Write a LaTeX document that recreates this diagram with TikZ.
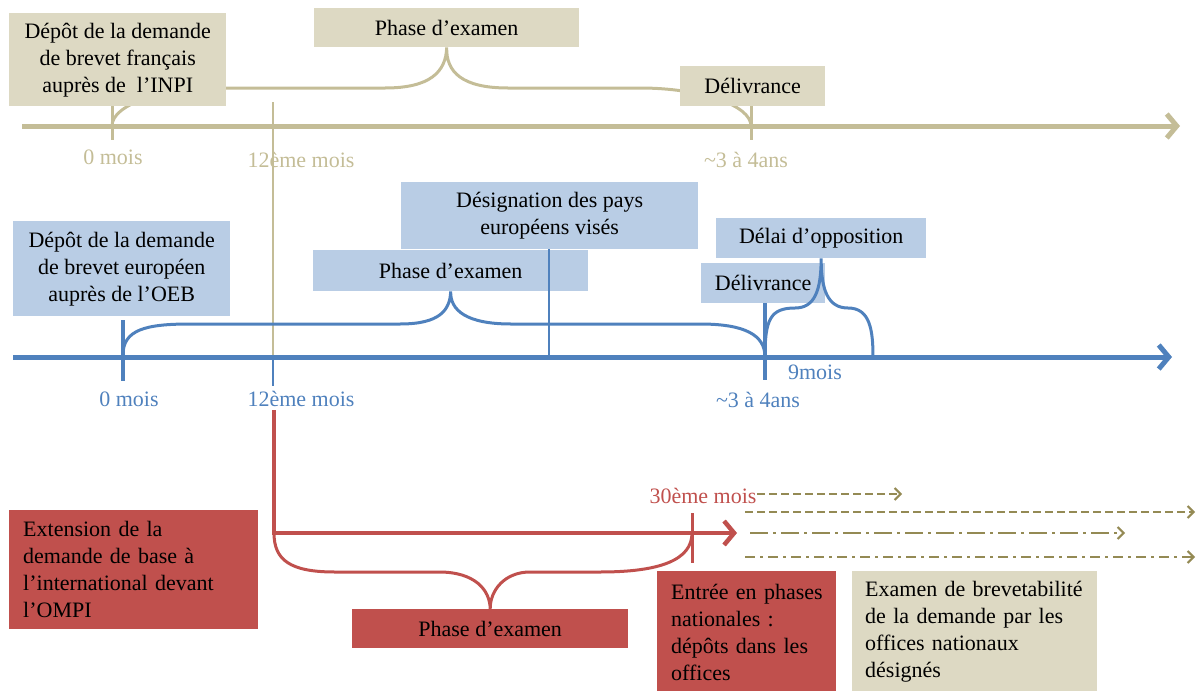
\documentclass[tikz,border=0pt]{standalone}
\usepackage{fontspec}
\setmainfont{Liberation Serif}
\usetikzlibrary{arrows.meta,backgrounds}
\definecolor{beigeF}{HTML}{DDD9C3}
\definecolor{beigeL}{HTML}{C4BD97}
\definecolor{blueF}{HTML}{B9CDE5}
\definecolor{blueL}{HTML}{4F81BD}
\definecolor{redF}{HTML}{C0504D}
\definecolor{oliveL}{HTML}{948A54}
\begin{document}
\begin{tikzpicture}[x=1pt,y=-1pt,
  txt/.style={font=\fontsize{22}{27}\selectfont, inner sep=0pt},
  box/.style={txt, anchor=north west, align=center},
  lbox/.style={txt, anchor=north west, align=left},
  axis/.style={line width=5pt, -{Straight Barb[length=10pt,width=24pt,line width=5pt]}},
  brace/.style={line width=3pt},
  tick/.style={line width=3pt},
  natl/.style={oliveL, line width=2pt, -{Straight Barb[length=6pt,width=12pt,line width=2pt]}},
]
\useasboundingbox (0,0) rectangle (1203,691);

% ---------- French (INPI) timeline ----------
\node[box, fill=beigeF, minimum width=217pt, minimum height=93pt] (inpi) at (9,13)
  {Dépôt de la demande\\de brevet français\\auprès de\ \ l’INPI};
\node[box, fill=beigeF, minimum width=265pt, minimum height=39pt] (pfr) at (314,8) {Phase d’examen};
\node[box, fill=beigeF, minimum width=145pt, minimum height=40pt] (dfr) at (680,66) {Délivrance};

\coordinate (fS) at (22,126);
\coordinate (fE) at (1180,126);
\coordinate (f0t) at (112,106);
\coordinate (f0) at (112,126);
\coordinate (f0b) at (112,140);
\coordinate (f3t) at (751,106);
\coordinate (f3) at (751,126);
\coordinate (f3b) at (751,140);
\coordinate (f12t) at (273,102);

\begin{scope}[on background layer]
\draw[beigeL, brace] (f0) .. controls (112,105) and (160,88) .. (220,88) -- (385,88)
  .. controls (430,88) and (446,72) .. (pfr.south)
  .. controls (446,72) and (462,88) .. (508,88) -- (640,88)
  .. controls (700,88) and (751,105) .. (f3);
\end{scope}
\draw[beigeL, axis] (fS) -- (fE);
\draw[beigeL, tick] (f0t) -- (f0b);
\draw[beigeL, tick] (f3t) -- (f3b);

\node[txt, text=beigeL] (fl0) at (113,157) {0 mois};
\node[txt, text=beigeL] (fl12) at (301,160) {12ème mois};
\node[txt, text=beigeL] (fl3) at (746,160) {\textasciitilde3 à 4ans};

% ---------- European (OEB) timeline ----------
\node[box, fill=blueF, minimum width=217pt, minimum height=95pt] (oeb) at (13,221)
  {Dépôt de la demande\\de brevet européen\\auprès de l’OEB};
\node[box, fill=blueF, minimum width=297pt, minimum height=67pt] (desig) at (401,182)
  {Désignation des pays\\européens visés};
\node[box, fill=blueF, minimum width=275pt, minimum height=41pt] (peu) at (313,250) {Phase d’examen};
\node[box, fill=blueF, minimum width=210pt, minimum height=40pt] (oppo) at (716,218) {Délai d’opposition};
\node[box, fill=blueF, minimum width=124pt, minimum height=40pt] (deu) at (701,263) {Délivrance};

\coordinate (eS) at (13,357);
\coordinate (eE) at (1172,357);
\coordinate (e0t) at (123,320);
\coordinate (e0) at (123,355);
\coordinate (e0b) at (123,381);
\coordinate (e12) at (273,357);
\coordinate (e12b) at (273,386);
\coordinate (edes) at (549,357);
\coordinate (e3) at (765,357);
\coordinate (e3b) at (765,380);
\coordinate (e9) at (873,357);

\draw[beigeL, line width=2.5pt] (f12t) -- (e12);
\draw[blueL, axis] (eS) -- (eE);
\draw[blueL, line width=2.5pt] (e12) -- (e12b);
\draw[blueL, line width=4pt] (e0t) -- (e0b);
\draw[blueL, line width=2.5pt] (desig.south -| edes) -- (edes);
\draw[blueL, line width=3.5pt] (deu.south -| e3) -- (e3b);
\draw[blueL, brace] (e0) .. controls (123,330) and (145,324) .. (190,324) -- (400,324)
  .. controls (440,324) and (450,310) .. (peu.south)
  .. controls (450,310) and (466,324) .. (511,324) -- (700,324)
  .. controls (745,324) and (765,335) .. (e3);
\draw[blueL, brace] (e3) .. controls (765,320) and (770,308) .. (795,308)
  .. controls (815,308) and (821,290) .. (oppo.south)
  .. controls (821,290) and (828,308) .. (848,308)
  .. controls (870,308) and (873,330) .. (e9);

\node[txt, text=blueL] (el0) at (129,399) {0 mois};
\node[txt, text=blueL] (el12) at (301,399) {12ème mois};
\node[txt, text=blueL] (el9) at (815,372) {9mois};
\node[txt, text=blueL] (el3) at (758,400) {\textasciitilde3 à 4ans};

% ---------- International (OMPI) ----------
\node[lbox, fill=redF, minimum width=249pt, minimum height=119pt, text width=221pt] (ompi) at (9,510)
  {Extension de la\\demande de base à\\\mbox{l’international devant}\\l’OMPI};
\node[box, fill=redF, minimum width=276pt, minimum height=39pt] (pin) at (352,609) {Phase d’examen};
\node[lbox, fill=redF, minimum width=179pt, minimum height=122pt, text width=151pt] (entree) at (657,571)
  {\mbox{Entrée en phases}\\\mbox{nationales :}\\\mbox{dépôts dans les}\\offices};
\node[lbox, fill=beigeF, minimum width=245pt, minimum height=122pt, text width=219pt] (exam) at (852,571)
  {\mbox{Examen de brevetabilité}\\\mbox{de la demande par les}\\\mbox{offices nationaux}\\désignés};

\coordinate (r0) at (274,410);
\coordinate (rc) at (274,533);
\coordinate (rE) at (737,533);
\coordinate (r30t) at (692,513);
\coordinate (r30) at (692,533);
\coordinate (r30b) at (692,563);

\draw[redF, line width=4.5pt, -{Straight Barb[length=10pt,width=24pt,line width=4.5pt]}] (r0) -- (rc) -- (rE);
\draw[redF, line width=3pt] (r30t) -- (r30b);
\draw[redF, brace] (rc) .. controls (274,560) and (290,572) .. (335,572) -- (439,572)
  .. controls (475,572) and (490,590) .. (pin.north)
  .. controls (490,590) and (505,572) .. (530,572) -- (600,572)
  .. controls (660,572) and (692,560) .. (r30);

\node[txt, text=redF] (r30l) at (703,496) {30ème mois};

\coordinate (n1s) at (757,494);
\coordinate (n1e) at (902,494);
\coordinate (n2s) at (745,512);
\coordinate (n2e) at (1195,512);
\coordinate (n3s) at (750,533);
\coordinate (n3e) at (1125,533);
\coordinate (n4s) at (745,557);
\coordinate (n4e) at (1195,557);
\draw[natl, dash pattern=on 8pt off 4pt] (n1s) -- (n1e);
\draw[natl, dash pattern=on 8pt off 4pt] (n2s) -- (n2e);
\draw[natl, dash pattern=on 18pt off 5pt on 3pt off 5pt] (n3s) -- (n3e);
\draw[natl, dash pattern=on 10pt off 5pt on 3pt off 5pt] (n4s) -- (n4e);
\end{tikzpicture}
\end{document}
